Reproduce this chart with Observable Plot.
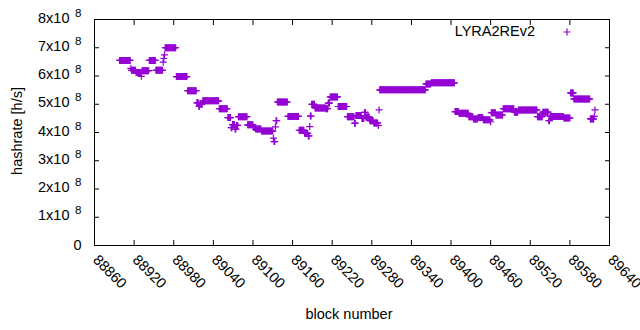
<!DOCTYPE html>
<html><head><meta charset="utf-8">
<script src="https://cdn.jsdelivr.net/npm/d3@7"></script>
<script src="https://cdn.jsdelivr.net/npm/@observablehq/plot@0.6"></script>
<style>body{margin:0;background:#fff;} svg{display:block;}</style>
</head><body><div id="chart"></div>
<script>
// Runs of consecutive blocks sharing one hashrate value
const runStart = [88898,88915,88916,88923,88931,88932,88943,88953,88964,88965,88966,88967,88984,89001,89015,89018,89020,89024,89049,89062,89067,89069,89073,89075,89078,89092,89101,89104,89113,89131,89132,89134,89135,89137,89153,89170,89178,89184,89186,89187,89189,89194,89211,89214,89217,89229,89243,89254,89256,89265,89269,89271,89277,89283,89290,89291,89292,89362,89370,89406,89412,89427,89434,89441,89449,89460,89461,89468,89479,89496,89502,89531,89539,89548,89550,89571,89581,89586,89611,89617,89618];
const runEnd   = [88914,88915,88922,88930,88931,88942,88952,88963,88964,88965,88966,88983,89000,89014,89017,89019,89023,89048,89061,89066,89068,89072,89074,89077,89091,89100,89103,89112,89130,89131,89133,89134,89136,89152,89169,89177,89183,89185,89186,89188,89193,89210,89213,89216,89228,89242,89253,89255,89264,89268,89270,89276,89282,89289,89290,89291,89361,89369,89405,89411,89426,89433,89440,89448,89459,89460,89467,89478,89495,89501,89530,89538,89547,89549,89570,89580,89585,89610,89616,89617,89618];
const runValue = [6.55e8,6.27e8,6.2e8,6.12e8,5.99e8,6.19e8,6.55e8,6.2e8,6.49e8,6.62e8,6.75e8,7.0e8,5.98e8,5.48e8,5.05e8,4.93e8,5.0e8,5.12e8,4.84e8,4.53e8,4.17e8,4.28e8,4.12e8,4.25e8,4.56e8,4.27e8,4.18e8,4.12e8,4.05e8,3.8e8,3.68e8,4.2e8,4.42e8,5.08e8,4.57e8,4.08e8,3.97e8,3.88e8,4.21e8,4.58e8,5.0e8,4.87e8,4.84e8,5.04e8,5.26e8,4.92e8,4.56e8,4.33e8,4.6e8,4.5e8,4.71e8,4.55e8,4.42e8,4.34e8,4.25e8,4.8e8,5.51e8,5.72e8,5.76e8,4.74e8,4.68e8,4.56e8,4.48e8,4.53e8,4.45e8,4.38e8,4.7e8,4.62e8,4.84e8,4.72e8,4.8e8,4.56e8,4.72e8,4.42e8,4.57e8,4.51e8,5.4e8,5.19e8,4.48e8,4.57e8,4.8e8];

const xTicks = [88860,88920,88980,89040,89100,89160,89220,89280,89340,89400,89460,89520,89580,89640];
const yTicks = [0,1e8,2e8,3e8,4e8,5e8,6e8,7e8,8e8];
const yMantissa = ["0","1x10","2x10","3x10","4x10","5x10","6x10","7x10","8x10"];
const yExponent = ["","8","8","8","8","8","8","8","8"];
const seriesName = "LYRA2REv2";
const xLabel = "block number";
const yLabel = "hashrate [h/s]";
const color = "#9400d3";

const points = [];
runStart.forEach((s, i) => { for (let b = s; b <= runEnd[i]; b++) points.push({block: b, hashrate: runValue[i]}); });

const plusSymbol = {draw(ctx, size) {
  const r = Math.sqrt(size / Math.PI);
  ctx.moveTo(-r, 0); ctx.lineTo(r, 0);
  ctx.moveTo(0, -r); ctx.lineTo(0, r);
}};

const font = "'Liberation Sans', Arial, sans-serif";
const chart = Plot.plot({
  width: 640, height: 330,
  marginLeft: 94, marginRight: 31, marginTop: 19, marginBottom: 85,
  style: {fontFamily: font, fontSize: "14.5px", background: "white", color: "black", overflow: "visible"},
  x: {domain: [88860, 89640]},
  y: {domain: [0, 8e8]},
  marks: [
    Plot.axisX({ticks: xTicks, tickSize: -5, tickFormat: () => "", label: null}),
    Plot.axisX({anchor: "top", ticks: xTicks, tickSize: -5, tickFormat: () => "", label: null}),
    Plot.axisY({ticks: yTicks, tickSize: -5, tickFormat: () => "", label: null}),
    Plot.axisY({anchor: "right", ticks: yTicks, tickSize: -5, tickFormat: () => "", label: null}),
    Plot.frame({stroke: "black"}),
    Plot.text(xTicks, {x: d => d, frameAnchor: "bottom", text: d => String(d), rotate: 45, textAnchor: "start", lineAnchor: "middle", dx: 1, dy: 12, fill: "black"}),
    Plot.text(yTicks, {y: d => d, frameAnchor: "left", text: (d, i) => yMantissa[i], filter: (d, i) => yExponent[i] !== "", dx: -25, dy: -1.5, textAnchor: "end", fill: "black"}),
    Plot.text(yTicks, {y: d => d, frameAnchor: "left", text: (d, i) => yMantissa[i], filter: (d, i) => yExponent[i] === "", dx: -13, textAnchor: "end", fill: "black"}),
    Plot.text(yTicks, {y: d => d, frameAnchor: "left", text: (d, i) => yExponent[i], dx: -13, dy: -6.5, textAnchor: "end", fontSize: 11.6, fill: "black"}),
    Plot.dot(points, {x: "block", y: "hashrate", symbol: plusSymbol, r: 3.5, stroke: color, fill: "none", strokeWidth: 1.2})
  ]
});

const svg = d3.select(chart);
svg.append("text").attr("x", 349).attr("y", 315).attr("text-anchor", "middle").attr("dominant-baseline", "middle")
  .attr("font-family", font).attr("font-size", 14.5).attr("fill", "black").text(xLabel);
svg.append("text").attr("transform", "translate(18,131) rotate(-90)").attr("text-anchor", "middle").attr("dominant-baseline", "middle")
  .attr("font-family", font).attr("font-size", 14.5).attr("fill", "black").text(yLabel);
svg.append("text").attr("x", 535).attr("y", 32).attr("text-anchor", "end").attr("dominant-baseline", "middle")
  .attr("font-family", font).attr("font-size", 14.5).attr("fill", "black").text(seriesName);
svg.append("path").attr("d", "M563.5,32H570.5M567,28.5V35.5").attr("stroke", color).attr("stroke-width", 1.2).attr("fill", "none");

document.getElementById("chart").appendChild(chart);
</script>
</body></html>
